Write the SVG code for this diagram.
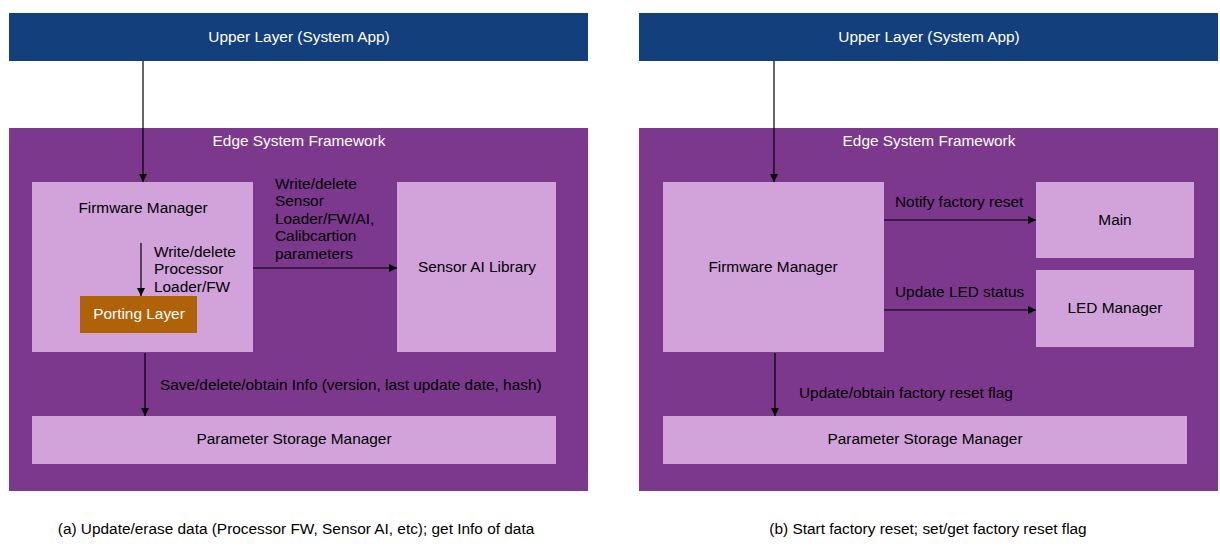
<svg xmlns="http://www.w3.org/2000/svg" width="1220" height="556" viewBox="0 0 1220 556">
<defs>
<marker id="arr" viewBox="0 0 10 10" refX="10" refY="5" markerWidth="8" markerHeight="8" markerUnits="userSpaceOnUse" orient="auto">
<path d="M0,0 L10,5 L0,10 z" fill="#000"/>
</marker>
<style>
text{font-family:"Liberation Sans",Arial,sans-serif;font-size:15.4px;fill:#000}
.w{fill:#fff}
.c{text-anchor:middle}
.blue{fill:#133F7D}
.frame{fill:#7C388C}
.box{fill:#D1A3DA}
.port{fill:#AF6207}
.ln{stroke:#000;stroke-width:1.2;fill:none;marker-end:url(#arr)}
</style>
</defs>
<rect width="1220" height="556" fill="#fff"/>

<!-- Left diagram -->
<g id="a-upper"><rect class="blue" x="9" y="13" width="579" height="48"/><text class="w c" x="299" y="42">Upper Layer (System App)</text></g>
<g id="a-framework"><rect class="frame" x="9" y="128" width="579" height="363"/><text class="w c" x="299" y="146">Edge System Framework</text></g>
<g id="a-fwmgr"><rect class="box" x="32" y="182" width="221" height="170"/><text class="c" x="143" y="213">Firmware Manager</text></g>
<g id="a-porting"><rect class="port" x="80" y="296" width="117" height="37"/><text class="w c" x="139" y="319">Porting Layer</text></g>
<g id="a-sensor"><rect class="box" x="397" y="182" width="159" height="170"/><text class="c" x="477" y="272">Sensor AI Library</text></g>
<g id="a-param"><rect class="box" x="32" y="416" width="524" height="48"/><text class="c" x="294" y="444">Parameter Storage Manager</text></g>

<!-- Right diagram -->
<g id="b-upper"><rect class="blue" x="639" y="13" width="579" height="48"/><text class="w c" x="929" y="42">Upper Layer (System App)</text></g>
<g id="b-framework"><rect class="frame" x="639" y="128" width="579" height="363"/><text class="w c" x="929" y="146">Edge System Framework</text></g>
<g id="b-fwmgr"><rect class="box" x="663" y="182" width="221" height="170"/><text class="c" x="773" y="272">Firmware Manager</text></g>
<g id="b-main"><rect class="box" x="1036" y="182" width="158" height="76"/><text class="c" x="1115" y="225">Main</text></g>
<g id="b-led"><rect class="box" x="1036" y="270" width="158" height="77"/><text class="c" x="1115" y="313">LED Manager</text></g>
<g id="b-param"><rect class="box" x="663" y="416" width="524" height="48"/><text class="c" x="925" y="444">Parameter Storage Manager</text></g>

<g id="connectors">
<line class="ln" x1="143" y1="61" x2="143" y2="182"/>
<line class="ln" x1="141" y1="243" x2="141" y2="296"/>
<line class="ln" x1="253" y1="268" x2="397" y2="268"/>
<line class="ln" x1="145" y1="353" x2="145" y2="416"/>
<line class="ln" x1="774" y1="61" x2="774" y2="182"/>
<line class="ln" x1="884" y1="220" x2="1036" y2="220"/>
<line class="ln" x1="884" y1="310" x2="1036" y2="310"/>
<line class="ln" x1="775" y1="353" x2="775" y2="416"/>
</g>

<g id="labels">
<text x="154" y="257">Write/delete</text>
<text x="154" y="274">Processor</text>
<text x="154" y="292">Loader/FW</text>
<text x="275" y="189">Write/delete</text>
<text x="275" y="206">Sensor</text>
<text x="275" y="224">Loader/FW/AI,</text>
<text x="275" y="241">Calibcartion</text>
<text x="275" y="259">parameters</text>
<text x="160" y="390">Save/delete/obtain Info (version, last update date, hash)</text>
<text x="895" y="207">Notify factory reset</text>
<text x="895" y="297">Update LED status</text>
<text x="799" y="398">Update/obtain factory reset flag</text>
<text class="c" x="296" y="534">(a) Update/erase data (Processor FW, Sensor AI, etc); get Info of data</text>
<text class="c" x="928" y="534">(b) Start factory reset; set/get factory reset flag</text>
</g>
</svg>
